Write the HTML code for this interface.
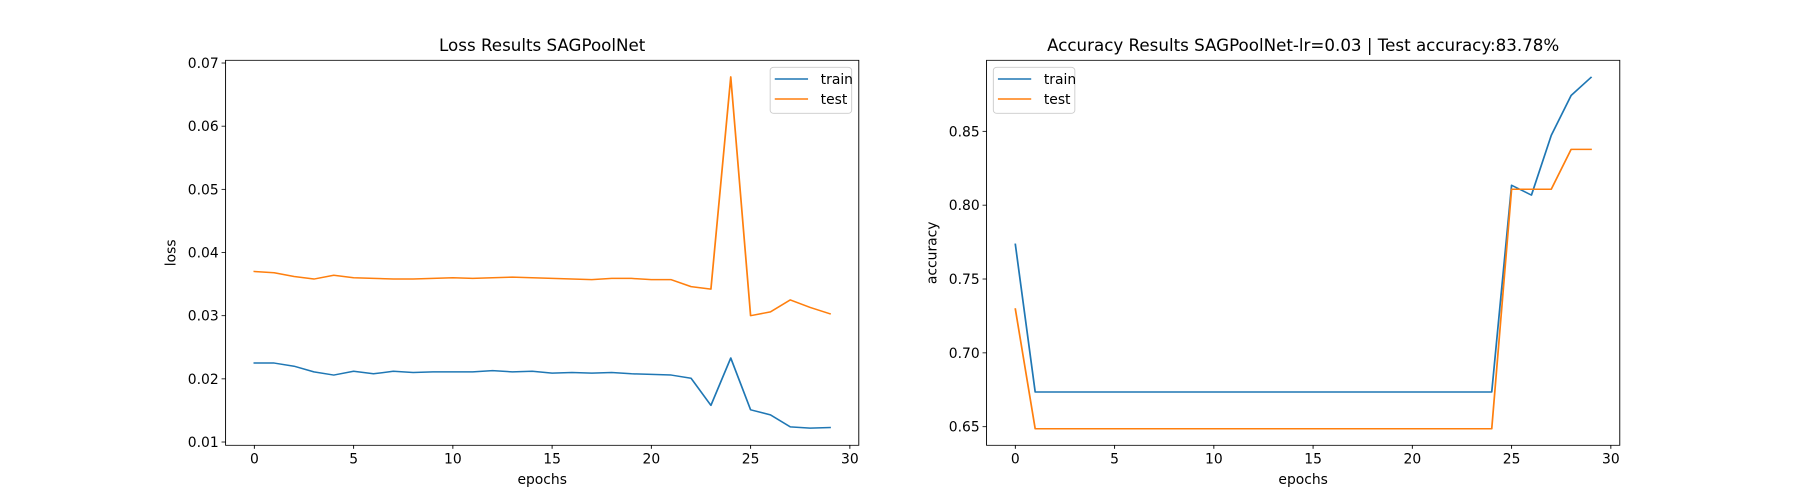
<!DOCTYPE html>
<html><head><meta charset="utf-8"><style>
html,body{margin:0;padding:0;background:#fff;}
svg{display:block;font-family:"DejaVu Sans","Liberation Sans",sans-serif;}
</style></head><body>
<svg id="fig" width="1800" height="500" viewBox="0 0 1568 500" preserveAspectRatio="none" xmlns="http://www.w3.org/2000/svg"></svg>
<script>
const epochs = Array.from({length:30},(_,i)=>i);
const lossTrain = [0.0225,0.0225,0.0220,0.0211,0.0206,0.0212,0.0208,0.0212,0.0210,0.0211,0.0211,0.0211,0.0213,0.0211,0.0212,0.0209,0.0210,0.0209,0.0210,0.0208,0.0207,0.0206,0.0201,0.0158,0.0233,0.0151,0.0143,0.0124,0.0122,0.0123];
const lossTest = [0.0370,0.0368,0.0362,0.0358,0.0364,0.0360,0.0359,0.0358,0.0358,0.0359,0.0360,0.0359,0.0360,0.0361,0.0360,0.0359,0.0358,0.0357,0.0359,0.0359,0.0357,0.0357,0.0346,0.0342,0.0678,0.0300,0.0306,0.0325,0.0313,0.0303];
const accTrain = [0.7735,0.6735,0.6735,0.6735,0.6735,0.6735,0.6735,0.6735,0.6735,0.6735,0.6735,0.6735,0.6735,0.6735,0.6735,0.6735,0.6735,0.6735,0.6735,0.6735,0.6735,0.6735,0.6735,0.6735,0.6735,0.8135,0.8068,0.8473,0.8743,0.8865];
const accTest = [0.7297,0.6486,0.6486,0.6486,0.6486,0.6486,0.6486,0.6486,0.6486,0.6486,0.6486,0.6486,0.6486,0.6486,0.6486,0.6486,0.6486,0.6486,0.6486,0.6486,0.6486,0.6486,0.6486,0.6486,0.6486,0.8108,0.8108,0.8108,0.8378,0.8378];
const xTicks = [0,5,10,15,20,25,30];
const lossTicks = [0.01,0.02,0.03,0.04,0.05,0.06,0.07];
const lossTickLabels = ["0.01","0.02","0.03","0.04","0.05","0.06","0.07"];
const accTicks = [0.65,0.70,0.75,0.80,0.85];
const accTickLabels = ["0.65","0.70","0.75","0.80","0.85"];

const NS="http://www.w3.org/2000/svg";
const svg=document.getElementById('fig');
const SX=0.8711;
function mk(tag,attrs,parent){const e=document.createElementNS(NS,tag);for(const k in attrs)e.setAttribute(k,attrs[k]);(parent||svg).appendChild(e);return e;}
function txt(x,y,s,size,anchor,parent,rot){
  const t=mk('text',{x:0,y:0,'font-size':size,'text-anchor':anchor,transform:`translate(${x} ${y}) scale(${SX} 1)`+(rot?' rotate(-90)':'')},parent);
  t.textContent=s;return t;
}

function panel(cfg){
  const g=mk('g',{});
  
  
  const L=cfg.l,R=cfg.r,T=60.3,B=445.3;
  const xs=v=>L+(v-(-1.45))/(30.45-(-1.45))*(R-L);
  const ys=v=>B-(v-cfg.ymin)/(cfg.ymax-cfg.ymin)*(B-T);
  xTicks.forEach(t=>{
    const x=xs(t);
    const tk=mk('line',{x1:x,x2:x,y1:B,y2:B+3.5,stroke:'#000','stroke-width':0.8},g);
    
    
    const tx=txt(x,B+18,String(t),13.9,'middle',g);
    
    
  });
  cfg.ticks.forEach((t,i)=>{
    const y=ys(t);
    const tk=mk('line',{x1:L-3.5,x2:L,y1:y,y2:y,stroke:'#000','stroke-width':0.8},g);
    
    
    const tx=txt(L-6,y+5,cfg.tickLabels[i],13.9,'end',g);
    
    
  });
  [[cfg.train,'#1f77b4','train-line'],[cfg.test,'#ff7f0e','test-line']].forEach(([d,c,n])=>{
    const pts=d.map((v,i)=>xs(epochs[i]).toFixed(2)+','+ys(v).toFixed(2)).join(' ');
    const p=mk('polyline',{points:pts,fill:'none',stroke:c,'stroke-width':1.5,'stroke-linejoin':'round','stroke-linecap':'square'},g);
    
    
  });
  const fr=mk('rect',{x:L,y:T,width:R-L,height:B-T,fill:'none',stroke:'#000','stroke-width':0.8},g);
  
  
  const ti=txt((L+R)/2,51,cfg.title,16.7,'middle',g);
  
  
  const xl=txt((L+R)/2,484,'epochs',13.9,'middle',g);
  
  
  const yl=txt(cfg.ylabX,(T+B)/2,cfg.ylabel,13.9,'middle',g,true);
  
  
  const lg=mk('g',{},g);
  
  
  const lx=cfg.legX;
  mk('rect',{x:lx,y:67.3,width:71,height:46,rx:3,fill:'#fff','fill-opacity':0.8,stroke:'#ccc','stroke-width':0.8},lg);
  [['train','#1f77b4',79],['test','#ff7f0e',99]].forEach(([n,c,y])=>{
    const e=mk('g',{},lg);
    
    
    mk('line',{x1:lx+4,x2:lx+33,y1:y,y2:y,stroke:c,'stroke-width':1.5},e);
    txt(lx+44,y+5,n,13.9,'start',e);
  });
}
panel({name:'loss-chart',l:196.5,r:748.1,ymin:0.00948,ymax:0.07043,train:lossTrain,test:lossTest,ticks:lossTicks,tickLabels:lossTickLabels,title:'Loss Results SAGPoolNet',ylabel:'loss',ylabX:153,legX:670.9});
panel({name:'accuracy-chart',l:859.4,r:1411,ymin:0.6374,ymax:0.8981,train:accTrain,test:accTest,ticks:accTicks,tickLabels:accTickLabels,title:'Accuracy Results SAGPoolNet-lr=0.03 | Test accuracy:83.78%',ylabel:'accuracy',ylabX:816,legX:865.3});
</script>
</body></html>
